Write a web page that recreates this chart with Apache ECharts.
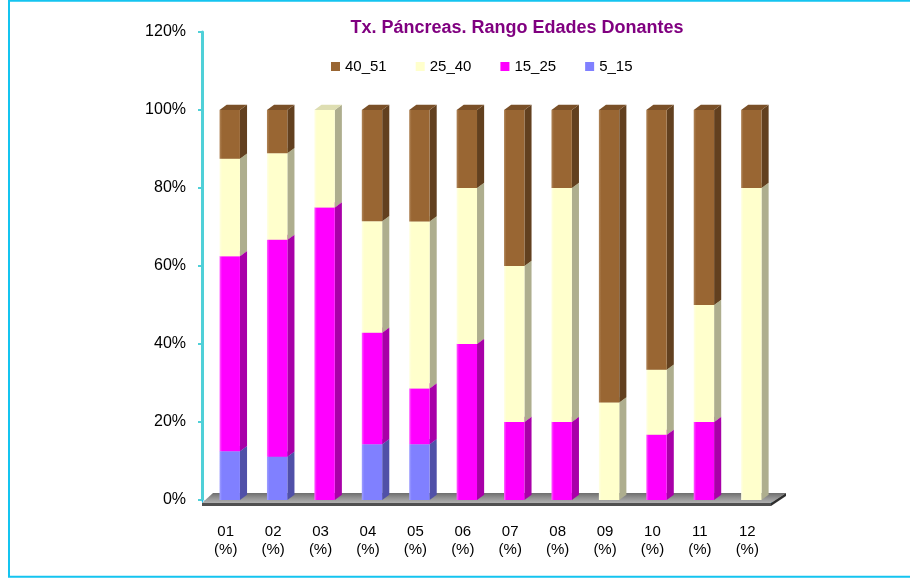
<!DOCTYPE html>
<html><head><meta charset="utf-8">
<script src="https://cdn.jsdelivr.net/npm/echarts@6/dist/echarts.min.js"></script>
<style>html,body{margin:0;padding:0;background:#fff}#c{width:910px;height:581px}</style>
</head><body><div id="c"></div>
<script>
const categories = ['01','02','03','04','05','06','07','08','09','10','11','12'];
const categoryLabels = categories.map(c => c + '\n(%)');
const legendOrder = ['40_51','25_40','15_25','5_15'];
const v5_15  = [12.5, 11.1, 0, 14.3, 14.3, 0, 0, 0, 0, 0, 0, 0];
const v15_25 = [50.0, 55.6, 75, 28.6, 14.3, 40, 20, 20, 0, 16.7, 20, 0];
const v25_40 = [25.0, 22.2, 25, 28.6, 42.8, 40, 40, 60, 25, 16.7, 30, 80];
const v40_51 = [12.5, 11.1, 0, 28.5, 28.6, 20, 40, 20, 75, 66.6, 50, 20];
const yTicks = [0, 20, 40, 60, 80, 100, 120];

const stackDef = [
  {name:'5_15',  vals:v5_15,  front:'#8080ff', side:'#5050a8', top:'#6a6ad8', hi:'#a0a0ff'},
  {name:'15_25', vals:v15_25, front:'#ff00ff', side:'#a800a8', top:'#cc00cc', hi:'#ff60ff'},
  {name:'25_40', vals:v25_40, front:'#ffffcc', side:'#aeae8e', top:'#dedeb2', hi:'#ffffe4'},
  {name:'40_51', vals:v40_51, front:'#996633', side:'#62401f', top:'#7a5028', hi:'#b08558'}
];

function makeRender(d) {
  return function (params, api) {
    const ci = api.value(0), b = api.value(1), t = api.value(2);
    if (t - b <= 0) return null;
    const p0 = api.coord([ci, b]), p1 = api.coord([ci, t]);
    const band = api.size([1, 0])[0];
    const w = band * 0.43, dx = band * 0.15, dy = band * 0.11;
    const x0 = p0[0] - band * 0.13, x1 = x0 + w;
    const yb = p0[1], yt = p1[1];
    return {type:'group', children:[
      {type:'polygon', shape:{points:[[x1,yb],[x1+dx,yb-dy],[x1+dx,yt-dy],[x1,yt]]}, style:{fill:d.side}},
      {type:'polygon', shape:{points:[[x0,yt],[x0+dx,yt-dy],[x1+dx,yt-dy],[x1,yt]]}, style:{fill:d.top}},
      {type:'rect', shape:{x:x0, y:yt, width:w, height:yb-yt}, style:{fill:{type:'linear',x:0,y:0,x2:1,y2:0,colorStops:[{offset:0,color:d.hi},{offset:0.12,color:d.front},{offset:1,color:d.front}]}}}
    ]};
  };
}

const cum = categories.map(() => 0);
const barSeries = stackDef.map(d => {
  const data = categories.map((c, i) => {
    const b = cum[i];
    cum[i] += d.vals[i];
    return [i, b, cum[i]];
  });
  return {
    name: d.name, type:'custom', renderItem: makeRender(d), data: data,
    encode:{x:0, y:[1,2]}, itemStyle:{color:d.front}, z:3
  };
});

const floorSeries = {
  type:'custom', z:2, silent:true, data:[[0, 0]],
  renderItem: function (params, api) {
    const band = api.size([1, 0])[0];
    const a = api.coord([0, 0]), z = api.coord([categories.length - 1, 0]);
    const xL = a[0] - band / 2, xR = z[0] + band / 2, y0 = a[1];
    return {type:'group', children:[
      {type:'polygon', shape:{points:[[xL,y0+3],[xR,y0+3],[xR+15,y0-7],[xL+11,y0-7]]},
       style:{fill:{type:'linear',x:0,y:0,x2:0,y2:1,colorStops:[{offset:0,color:'#6e6e6e'},{offset:0.5,color:'#939393'},{offset:1,color:'#b0b0b0'}]}}},
      {type:'polygon', shape:{points:[[xL,y0+3],[xR,y0+3],[xR,y0+6],[xL,y0+6]]}, style:{fill:'#505050'}},
      {type:'polygon', shape:{points:[[xR,y0+3],[xR+15,y0-7],[xR+15,y0-4],[xR,y0+6]]}, style:{fill:'#2e2e2e'}}
    ]};
  }
};

const chart = echarts.init(document.getElementById('c'), null, {renderer:'canvas'});
chart.setOption({
  animation:false,
  backgroundColor:'#ffffff',
  title:{
    text:'Tx. Páncreas. Rango Edades Donantes', left:512, top:14, textAlign:'center',
    textStyle:{fontFamily:'"Comic Sans MS","Liberation Sans",sans-serif', fontWeight:'bold', fontSize:18, color:'#800080'}
  },
  legend:{
    data:legendOrder, left:326, top:54, icon:'rect', itemWidth:9, itemHeight:9, itemGap:29,
    textStyle:{fontFamily:'"Liberation Sans",Arial,sans-serif', fontSize:15, color:'#000', width:62}
  },
  grid:{left:202, right:139, top:32, bottom:81},
  xAxis:{
    type:'category', data:categoryLabels, offset:6,
    axisLine:{show:true, lineStyle:{color:'#9be3f4', width:1}},
    axisTick:{show:true, length:4, lineStyle:{color:'#22b8e8', width:1}},
    axisLabel:{fontFamily:'"Liberation Sans",Arial,sans-serif', fontSize:15, lineHeight:18, color:'#000', margin:17}
  },
  yAxis:{
    type:'value', min:yTicks[0], max:yTicks[yTicks.length-1], interval:20,
    axisLine:{show:true, lineStyle:{color:'#4fd0d8', width:3}},
    axisTick:{show:true, length:4, lineStyle:{color:'#4fd0d8', width:2}},
    splitLine:{show:false},
    axisLabel:{formatter:'{value}%', fontFamily:'"Liberation Sans",Arial,sans-serif', fontSize:16, color:'#000', margin:16, padding:[7,0,0,0]}
  },
  graphic:[{type:'rect', shape:{x:9, y:0.8, width:1000, height:576}, style:{fill:'none', stroke:'#14c4f0', lineWidth:2}, z:100, silent:true}],
  series:[floorSeries].concat(barSeries)
});
</script>
</body></html>
